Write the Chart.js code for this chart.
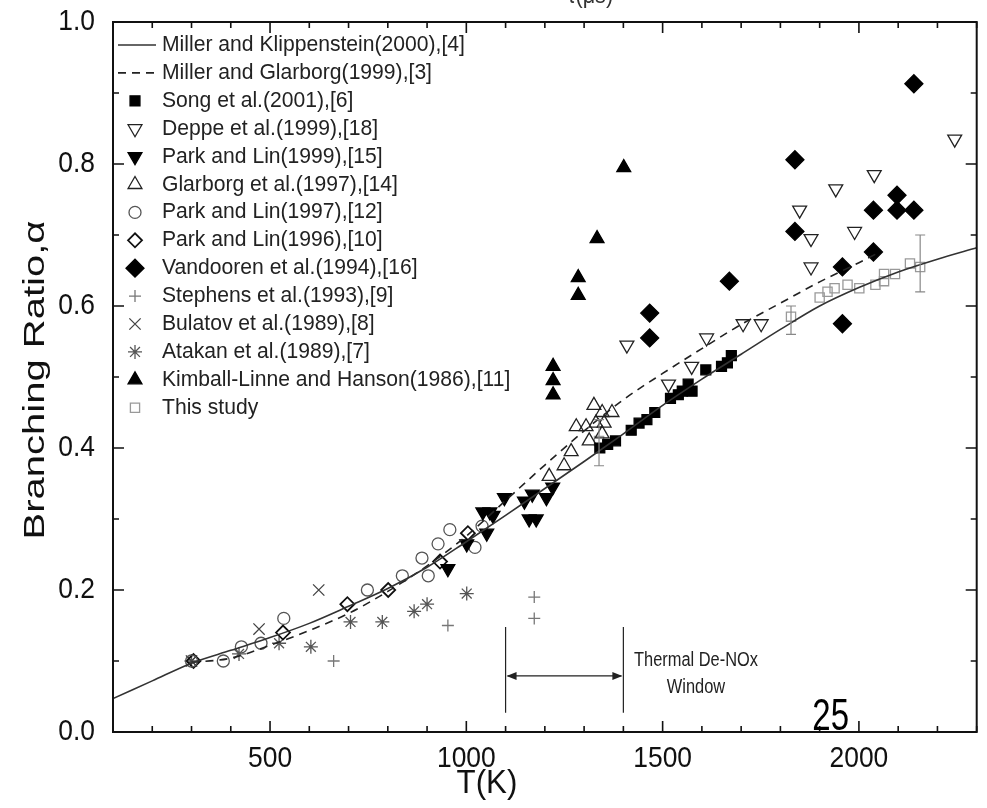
<!DOCTYPE html>
<html>
<head>
<meta charset="utf-8">
<script src="https://cdn.jsdelivr.net/npm/chart.js@4.4.1/dist/chart.umd.min.js"></script>
<style>
html,body{margin:0;padding:0;background:#fff;}
</style>
</head>
<body>
<canvas id="chart" width="987" height="808"></canvas>
<script>
const FONT='"Liberation Sans", Arial, sans-serif';

// theory curves
const mkT=[100,200,300,400,500,600,700,800,900,1000,1100,1200,1300,1400,1500,1600,1700,1800,1900,2000,2100,2200,2300];
const mkAlpha=[0.047,0.072,0.097,0.115,0.133,0.153,0.177,0.202,0.232,0.268,0.305,0.343,0.381,0.42,0.46,0.497,0.532,0.567,0.6,0.626,0.648,0.666,0.682];
const mgT=[300,400,500,600,700,800,900,1000,1100,1200,1300,1400,1500,1600,1700,1800,1900,2000,2050];
const mgAlpha=[0.098,0.104,0.122,0.143,0.167,0.198,0.234,0.276,0.326,0.376,0.424,0.468,0.505,0.54,0.574,0.604,0.634,0.661,0.675];

// measurements
const songT=[1340,1360,1380,1420,1440,1460,1480,1520,1540,1550,1565,1575,1610,1650,1665,1675];
const songA=[0.40,0.405,0.41,0.425,0.435,0.44,0.45,0.47,0.475,0.48,0.49,0.48,0.51,0.515,0.52,0.53];
const deppeT=[1409,1515,1574,1612,1705,1751,1849,1878,1878,1941,1989,2039,2244];
const deppeA=[0.545,0.49,0.515,0.555,0.575,0.575,0.735,0.695,0.655,0.765,0.705,0.785,0.835];
const pl99T=[953,1001,1052,1042,1060,1068,1097,1148,1160,1178,1168,1204,1220];
const pl99A=[0.23,0.265,0.28,0.31,0.31,0.305,0.33,0.325,0.30,0.30,0.335,0.33,0.345];
const glarT=[1211,1249,1267,1280,1305,1313,1325,1330,1346,1346,1351,1371];
const glarA=[0.36,0.375,0.395,0.43,0.43,0.41,0.46,0.435,0.45,0.42,0.435,0.45];
const pl97T=[300,381,427,477,535,748,837,887,903,928,958,1022,1040];
const pl97A=[0.10,0.10,0.12,0.125,0.16,0.20,0.22,0.245,0.22,0.265,0.285,0.26,0.29];
const pl96T=[305,533,697,801,933,1004];
const pl96A=[0.10,0.14,0.18,0.20,0.24,0.28];
const vandT=[1467,1467,1670,1837,1837,1958,1958,2037,2037,2097,2097,2140,2140];
const vandA=[0.59,0.555,0.635,0.806,0.705,0.655,0.575,0.676,0.735,0.735,0.756,0.735,0.913];
const stephT=[662,953,1173,1173];
const stephA=[0.10,0.15,0.16,0.19];
const bulT=[300,472,624];
const bulA=[0.10,0.145,0.20];
const atakT=[300,421,523,604,705,786,867,900,1001];
const atakA=[0.10,0.11,0.125,0.12,0.155,0.155,0.17,0.18,0.195];
const kimT=[1221,1221,1221,1285,1285,1333,1401];
const kimA=[0.475,0.495,0.515,0.615,0.64,0.695,0.795];
const studyT=[1338,1827,1900,1920,1938,1971,2001,2042,2064,2064,2092,2130,2156];
const studyA=[0.41,0.585,0.612,0.62,0.625,0.63,0.625,0.63,0.645,0.635,0.645,0.66,0.655];
const studyErrT=[1338,1827,2156];
const studyErrLo=[0.375,0.56,0.62];
const studyErrHi=[0.44,0.60,0.70];

const yTicks=[0,0.2,0.4,0.6,0.8,1.0];
const xTicks=[500,1000,1500,2000];
const windowT=[1100,1400];

function pts(xs,ys){return xs.map((x,i)=>({x:x,y:ys[i]}));}
function sym(label,xs,ys,style,r,fill,stroke,rot,bw){
  return {label:label,data:pts(xs,ys),pointStyle:style,pointRadius:r,pointRotation:rot||0,
    pointBackgroundColor:fill,pointBorderColor:stroke,pointBorderWidth:bw||1.3,showLine:false};
}

const datasets=[
  {label:'Miller and Klippenstein(2000),[4]',data:pts(mkT,mkAlpha),showLine:true,borderColor:'#333',borderWidth:1.6,pointRadius:0,cubicInterpolationMode:'monotone'},
  {label:'Miller and Glarborg(1999),[3]',data:pts(mgT,mgAlpha),showLine:true,borderColor:'#222',borderWidth:1.6,borderDash:[8,6],pointRadius:0,cubicInterpolationMode:'monotone'},
  sym('Song et al.(2001),[6]',songT,songA,'rect',7,'#000','#000'),
  sym('Deppe et al.(1999),[18]',deppeT,deppeA,'triangle',8,'rgba(0,0,0,0)','#222',180),
  sym('Park and Lin(1999),[15]',pl99T,pl99A,'triangle',8,'#000','#000',180),
  sym('Glarborg et al.(1997),[14]',glarT,glarA,'triangle',8,'rgba(0,0,0,0)','#222'),
  sym('Park and Lin(1997),[12]',pl97T,pl97A,'circle',6,'rgba(0,0,0,0)','#555'),
  sym('Park and Lin(1996),[10]',pl96T,pl96A,'rectRot',7,'rgba(0,0,0,0)','#111',0,1.8),
  sym('Vandooren et al.(1994),[16]',vandT,vandA,'rectRot',9,'#000','#000'),
  sym('Stephens et al.(1993),[9]',stephT,stephA,'cross',6,'rgba(0,0,0,0)','#777'),
  sym('Bulatov et al.(1989),[8]',bulT,bulA,'crossRot',8,'rgba(0,0,0,0)','#444'),
  sym('Atakan et al.(1989),[7]',atakT,atakA,'star',7,'rgba(0,0,0,0)','#555'),
  sym('Kimball-Linne and Hanson(1986),[11]',kimT,kimA,'triangle',8,'#000','#000'),
  sym('This study',studyT,studyA,'rect',6.5,'rgba(0,0,0,0)','#999')
];

function txt(ctx,s,x,y,size,align,sx,color){
  ctx.save();
  ctx.translate(x,y);
  ctx.scale(sx,1);
  ctx.font=size+'px '+FONT;
  ctx.textAlign=align;
  ctx.textBaseline='middle';
  ctx.fillStyle=color||'#111';
  ctx.fillText(s,0,0);
  ctx.restore();
}

const decor={
  id:'decor',
  afterDatasetsDraw(chart){
    const ctx=chart.ctx, a=chart.chartArea, xs=chart.scales.x, ys=chart.scales.y;
    ctx.save();
    // error bars for this study
    ctx.strokeStyle='#888';ctx.lineWidth=1.2;
    studyErrT.forEach((t,i)=>{
      const px=xs.getPixelForValue(t), lo=ys.getPixelForValue(studyErrLo[i]), hi=ys.getPixelForValue(studyErrHi[i]);
      ctx.beginPath();
      ctx.moveTo(px,lo);ctx.lineTo(px,hi);
      ctx.moveTo(px-5,lo);ctx.lineTo(px+5,lo);
      ctx.moveTo(px-5,hi);ctx.lineTo(px+5,hi);
      ctx.stroke();
    });
    // thermal De-NOx window
    const w0=xs.getPixelForValue(windowT[0]), w1=xs.getPixelForValue(windowT[1]);
    const top=ys.getPixelForValue(0.148), bot=ys.getPixelForValue(0.027), ay=ys.getPixelForValue(0.079);
    ctx.strokeStyle='#222';ctx.lineWidth=1.2;
    ctx.beginPath();
    ctx.moveTo(w0,top);ctx.lineTo(w0,bot);
    ctx.moveTo(w1,top);ctx.lineTo(w1,bot);
    ctx.moveTo(w0+2,ay);ctx.lineTo(w1-2,ay);
    ctx.stroke();
    ctx.fillStyle='#222';
    ctx.beginPath();ctx.moveTo(w0+1,ay);ctx.lineTo(w0+11,ay-4);ctx.lineTo(w0+11,ay+4);ctx.closePath();ctx.fill();
    ctx.beginPath();ctx.moveTo(w1-1,ay);ctx.lineTo(w1-11,ay-4);ctx.lineTo(w1-11,ay+4);ctx.closePath();ctx.fill();
    txt(ctx,'Thermal De-NOx',xs.getPixelForValue(1585),ys.getPixelForValue(0.101),20,'center',0.82,'#222');
    txt(ctx,'Window',xs.getPixelForValue(1585),ys.getPixelForValue(0.062),20,'center',0.82,'#222');

    // frame
    ctx.strokeStyle='#111';ctx.lineWidth=2;
    ctx.strokeRect(a.left,a.top,a.right-a.left,a.bottom-a.top);
    // inward ticks
    ctx.lineWidth=1.6;
    ctx.beginPath();
    for(let t=100;t<=2300;t+=100){
      const px=xs.getPixelForValue(t), L=(t%500===0)?11:6;
      ctx.moveTo(px,a.bottom);ctx.lineTo(px,a.bottom-L);
      ctx.moveTo(px,a.top);ctx.lineTo(px,a.top+L);
    }
    for(let i=0;i<=10;i++){
      const py=ys.getPixelForValue(i/10), L=(i%2===0)?11:6;
      ctx.moveTo(a.left,py);ctx.lineTo(a.left+L,py);
      ctx.moveTo(a.right,py);ctx.lineTo(a.right-L,py);
    }
    ctx.stroke();
    // tick labels
    yTicks.forEach(v=>txt(ctx,v.toFixed(1),a.left-18,ys.getPixelForValue(v),30,'right',0.88));
    xTicks.forEach(v=>txt(ctx,String(v),xs.getPixelForValue(v),a.bottom+27,30,'center',0.88));
    // axis titles
    txt(ctx,'T(K)',487,a.bottom+52,34,'center',0.92);
    ctx.save();
    ctx.translate(36,380);ctx.rotate(-Math.PI/2);ctx.scale(1,0.75);
    ctx.font='40px '+FONT;ctx.textAlign='center';ctx.textBaseline='middle';ctx.fillStyle='#111';
    ctx.fillText('Branching Ratio,\u03b1',0,0);
    ctx.restore();
    // legend
    const lx=135, ly0=45, dy=27.9;
    chart.data.datasets.forEach((ds,i)=>{
      const y=ly0+i*dy;
      if(ds.showLine){
        ctx.save();
        ctx.strokeStyle=ds.borderColor;ctx.lineWidth=ds.borderWidth;
        ctx.setLineDash(ds.borderDash||[]);
        ctx.beginPath();ctx.moveTo(118,y);ctx.lineTo(156,y);ctx.stroke();
        ctx.restore();
      }else{
        ctx.save();
        ctx.fillStyle=ds.pointBackgroundColor;ctx.strokeStyle=ds.pointBorderColor;ctx.lineWidth=ds.pointBorderWidth;
        Chart.helpers.drawPoint(ctx,{pointStyle:ds.pointStyle,rotation:ds.pointRotation,radius:ds.pointRadius,borderWidth:ds.pointBorderWidth},lx,y);
        ctx.restore();
      }
      txt(ctx,ds.label,162,y,22,'left',0.96,'#222');
    });
    // page number overlay and cropped heading
    txt(ctx,'25',xs.getPixelForValue(1928),a.bottom-14,44,'center',0.75,'#000');
    txt(ctx,'\u03c4(\u03bcs)',590,-4,24,'center',0.9,'#333');
    ctx.restore();
  }
};

new Chart(document.getElementById('chart').getContext('2d'),{
  type:'scatter',
  data:{datasets:datasets},
  options:{
    responsive:false,
    animation:false,
    devicePixelRatio:1,
    events:[],
    layout:{padding:{top:22,right:-4,left:0,bottom:0}},
    plugins:{legend:{display:false},tooltip:{enabled:false}},
    scales:{
      x:{type:'linear',min:100,max:2300,
        grid:{display:false},border:{display:false},
        ticks:{display:false},
        afterFit:s=>{s.height=76;}},
      y:{type:'linear',min:0,max:1,
        grid:{display:false},border:{display:false},
        ticks:{display:false},
        afterFit:s=>{s.width=113;}}
    }
  },
  plugins:[decor]
});
</script>
</body>
</html>
